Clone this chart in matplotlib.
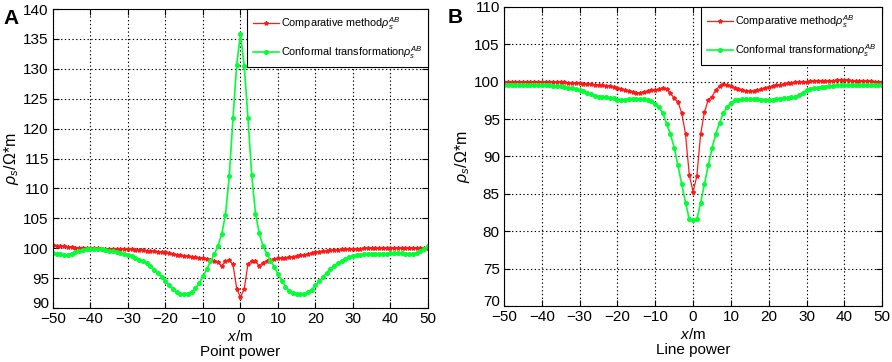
import numpy as np
import matplotlib
matplotlib.use("Agg")
import matplotlib.pyplot as plt
import matplotlib.transforms as mtransforms

plt.rcParams['font.family'] = ['Liberation Sans', 'DejaVu Sans']
plt.rcParams['mathtext.fontset'] = 'custom'
plt.rcParams['mathtext.it'] = 'Liberation Sans:italic'
plt.rcParams['mathtext.rm'] = 'Liberation Sans'

x = list(range(-50, 51))

# Panel A (point power)
red_a = [100.5, 100.4, 100.3, 100.3, 100.2, 100.2, 100.1, 100.1, 100.1, 100.0,
         100.0, 100.0, 100.0, 99.95, 99.95, 99.9, 99.9, 99.9, 99.85, 99.85,
         99.8, 99.8, 99.75, 99.7, 99.7, 99.6, 99.55, 99.5, 99.4, 99.35,
         99.3, 99.2, 99.05, 98.9, 98.8, 98.7, 98.65, 98.6, 98.5, 98.4,
         98.3, 98.2, 98.1, 97.9, 97.7, 97.0, 97.9, 98.0, 97.3, 93.2,
         91.8,
         93.2, 97.4, 97.9, 97.9, 97.0, 97.6, 97.9, 98.1, 98.2, 98.3,
         98.35, 98.4, 98.5, 98.6, 98.7, 98.8, 98.9, 99.05, 99.2, 99.35,
         99.45, 99.55, 99.6, 99.65, 99.7, 99.75, 99.8, 99.85, 99.9, 99.9,
         99.95, 99.95, 100.0, 100.0, 100.0, 100.0, 100.0, 100.05, 100.05, 100.05,
         100.05, 100.05, 100.05, 100.1, 100.1, 100.1, 100.1, 100.1, 100.1, 100.1]
green_a = [99.2, 99.1, 99.0, 98.9, 98.9, 99.1, 99.3, 99.5, 99.7, 99.8,
           99.9, 99.9, 99.8, 99.8, 99.7, 99.6, 99.5, 99.3, 99.2, 99.0,
           98.9, 98.7, 98.4, 98.1, 97.8, 97.5, 97.0, 96.4, 95.8, 95.2,
           94.5, 93.8, 93.2, 92.7, 92.4, 92.3, 92.4, 92.7, 93.3, 94.2,
           95.3, 96.5, 97.8, 99.0, 100.4, 102.4, 105.6, 112.0, 121.7, 130.7,
           135.8,
           130.5, 121.7, 112.2, 105.8, 102.5, 100.4, 99.1, 97.9, 96.9, 95.7,
           94.6, 93.6, 92.9, 92.5, 92.3, 92.3, 92.4, 92.7, 93.1, 93.8,
           94.5, 95.2, 95.9, 96.6, 97.1, 97.5, 97.9, 98.2, 98.5, 98.7,
           98.8, 98.9, 99.0, 99.1, 99.1, 99.1, 99.1, 99.1, 99.1, 99.2,
           99.2, 99.2, 99.2, 99.1, 99.1, 99.1, 99.2, 99.5, 99.9, 100.3]

# Panel B (line power)
red_b = [100.0, 100.0, 100.0, 100.0, 100.0, 100.0, 100.0, 100.0, 100.0, 100.0,
         100.0, 99.95, 99.95, 99.95, 99.9, 99.9, 99.9, 99.85, 99.85, 99.8,
         99.8, 99.75, 99.7, 99.65, 99.6, 99.6, 99.5, 99.45, 99.4, 99.3,
         99.2, 99.0, 98.9, 98.7, 98.6, 98.5, 98.55, 98.65, 98.75, 98.85,
         98.9, 99.0, 99.2, 99.0, 98.5, 97.8, 97.3, 95.8, 93.0, 87.5,
         85.3,
         87.4, 93.0, 95.9, 97.6, 98.0, 98.9, 99.4, 99.7, 99.6, 99.4,
         99.2, 99.0, 98.9, 98.8, 98.7, 98.75, 98.85, 99.0, 99.15, 99.3,
         99.4, 99.5, 99.6, 99.7, 99.8, 99.85, 99.9, 99.95, 100.0, 100.0,
         100.05, 100.1, 100.1, 100.1, 100.15, 100.15, 100.15, 100.2, 100.2, 100.2,
         100.2, 100.15, 100.15, 100.1, 100.1, 100.05, 100.05, 100.0, 100.0, 100.0]
green_b = [99.6, 99.6, 99.6, 99.6, 99.6, 99.55, 99.55, 99.55, 99.5, 99.5,
           99.5, 99.5, 99.5, 99.45, 99.4, 99.4, 99.3, 99.2, 99.1, 99.0,
           98.9, 98.7, 98.5, 98.3, 98.1, 98.0, 97.95, 97.9, 97.85, 97.8,
           97.6, 97.6, 97.6, 97.65, 97.7, 97.7, 97.7, 97.7, 97.6, 97.4,
           97.0, 96.6, 95.8, 94.4, 93.0, 91.2, 88.8, 86.3, 83.8, 81.6,
           81.5,
           81.6, 83.8, 86.3, 88.8, 91.1, 93.0, 94.5, 95.8, 96.6, 97.2,
           97.5, 97.6, 97.7, 97.7, 97.7, 97.7, 97.65, 97.6, 97.55, 97.5,
           97.6, 97.7, 97.75, 97.8, 97.85, 97.9, 98.0, 98.2, 98.5, 98.9,
           99.0, 99.1, 99.2, 99.3, 99.35, 99.4, 99.45, 99.5, 99.5, 99.5,
           99.55, 99.55, 99.55, 99.55, 99.6, 99.6, 99.6, 99.6, 99.6, 99.6]

xticks = list(range(-50, 51, 10))
yticks_a = list(range(90, 141, 5))
yticks_b = list(range(70, 111, 5))

lab_red = r'Comparative method$\rho_s^{AB}$'
lab_green = r'Conformal transformation$\rho_s^{AB}$'

RED = '#ff1a1a'
GREEN = '#00ff33'

fig = plt.figure(figsize=(8.92, 3.62), dpi=100)
axA = fig.add_axes([0.0594, 0.149, 0.4204, 0.826])
axB = fig.add_axes([0.565, 0.1547, 0.424, 0.826])

def style(ax, yticks, ylim, sub):
    ax.plot(x, red_a if sub == 'A' else red_b, color=RED, lw=0.9, marker='*',
            ms=3, label=lab_red)
    ax.plot(x, green_a if sub == 'A' else green_b, color=GREEN, lw=1.2, marker='o',
            ms=2.6, mfc=GREEN, mec=GREEN, label=lab_green)
    ax.set_xlim(-50, 50)
    ax.set_ylim(*ylim)
    ax.set_xticks(xticks)
    ax.set_yticks(yticks)
    ax.grid(True, color='black', linestyle=(0, (1.2, 2.2)), lw=0.8)
    ax.tick_params(direction='in', top=True, right=True, length=4,
                   labelsize=11, width=0.8, pad=3)
    for s in ax.spines.values():
        s.set_linewidth(0.8)
    ax.set_ylabel(r'$\rho_s$/Ω*m', fontsize=11.5, labelpad=2)
    ax.set_xlabel(r'$x$/m' + '\n' + ('Point power' if sub == 'A' else 'Line power'),
                  fontsize=11, labelpad=2, linespacing=1.1)
    leg = ax.legend(loc='upper right', borderaxespad=0, fontsize=7.8,
                    handlelength=2.4, handletextpad=0.2, labelspacing=1.15,
                    borderpad=0.55, fancybox=False, framealpha=1,
                    edgecolor='black')
    leg.get_frame().set_linewidth(0.8)
    # nudge the lowest y tick label up (as in the reference)
    fig.canvas.draw()
    lbl = ax.get_yticklabels()[0]
    lbl.set_transform(lbl.get_transform() +
                      mtransforms.ScaledTranslation(0, 4 / 72, fig.dpi_scale_trans))

style(axA, yticks_a, (90, 140), 'A')
style(axB, yticks_b, (70, 110), 'B')

fig.text(0.004, 0.975, 'A', fontsize=15, fontweight='bold', va='top', ha='left')
fig.text(0.502, 0.978, 'B', fontsize=15, fontweight='bold', va='top', ha='left')

fig.savefig('out.png', dpi=100)
